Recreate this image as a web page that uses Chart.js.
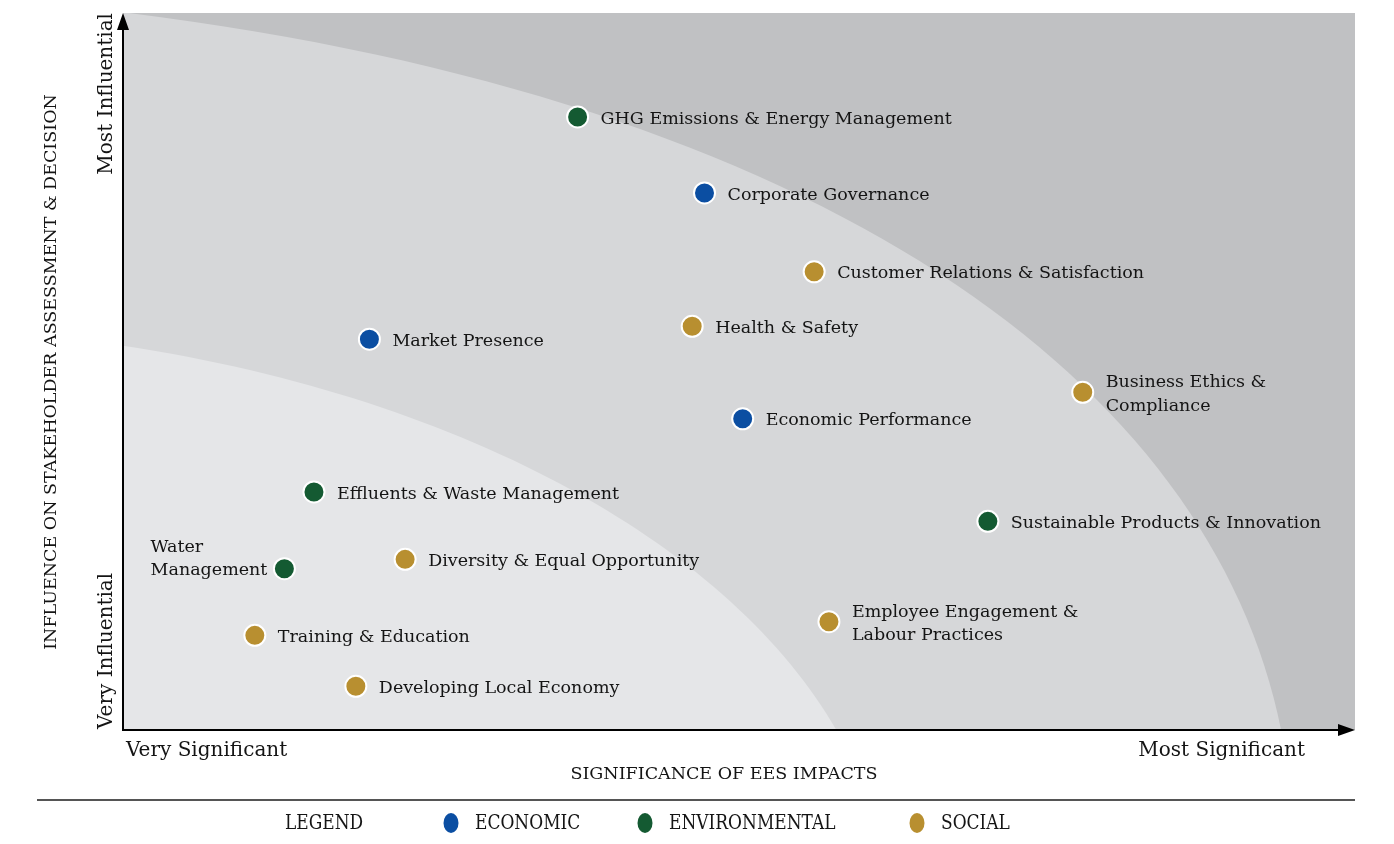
<!DOCTYPE html>
<html>
<head>
<meta charset="utf-8">
<script src="https://cdn.jsdelivr.net/npm/chart.js@4.4.1/dist/chart.umd.min.js"></script>
<style>
  body { margin: 0; background: #fff; }
  #wrap { width: 1394px; height: 844px; }
</style>
</head>
<body>
<div id="wrap"><canvas id="matriz" width="1394" height="844"></canvas></div>
<script>
// dados (escala 0-100 nos dois eixos)
const issues = [
    'GHG Emissions & Energy Management',
    'Corporate Governance',
    'Customer Relations & Satisfaction',
    'Health & Safety',
    'Market Presence',
    'Business Ethics & Compliance',
    'Economic Performance',
    'Effluents & Waste Management',
    'Sustainable Products & Innovation',
    'Water Management',
    'Diversity & Equal Opportunity',
    'Employee Engagement & Labour Practices',
    'Training & Education',
    'Developing Local Economy'
]
const significance = [36.9, 47.2, 56.1, 46.2, 20.0, 77.9, 50.3, 15.5, 70.2, 13.1, 22.9, 57.3, 10.7, 18.9]
const influence    = [85.5, 74.9, 63.9, 56.3, 54.5, 47.1, 43.4, 33.2, 29.1, 22.5, 23.8, 15.1, 13.2, 6.1]
const pillarOf = ['ENVIRONMENTAL', 'ECONOMIC', 'SOCIAL', 'SOCIAL', 'ECONOMIC', 'SOCIAL', 'ECONOMIC',
    'ENVIRONMENTAL', 'ENVIRONMENTAL', 'ENVIRONMENTAL', 'SOCIAL', 'SOCIAL', 'SOCIAL', 'SOCIAL']
const pillars = ['ECONOMIC', 'ENVIRONMENTAL', 'SOCIAL']
const pillarColors = ['#0b4ea2', '#145a32', '#b88f30']

// quebras de linha e rótulos à esquerda
const quebras = {
    'Business Ethics & Compliance': ['Business Ethics &', 'Compliance'],
    'Employee Engagement & Labour Practices': ['Employee Engagement &', 'Labour Practices'],
    'Water Management': ['Water', 'Management']
}
const rotuloEsquerda = ['Water Management']

const FONTE = '"DejaVu Serif", "Liberation Serif", serif'
const COR_TEXTO = '#141414'

const datasets = pillars.map((p, i) => {
    const pontos = []
    issues.forEach((nome, j) => {
        if (pillarOf[j] === p) pontos.push({ x: significance[j], y: influence[j], nome: nome })
    })
    return {
        label: p,
        data: pontos,
        backgroundColor: pillarColors[i],
        borderColor: '#ffffff',
        borderWidth: 2,
        pointRadius: 10.5,
        pointHoverRadius: 10.5
    }
})

function textoRotacionado(ctx, txt, x, y, align) {
    ctx.save()
    ctx.translate(x, y)
    ctx.rotate(-Math.PI / 2)
    ctx.textAlign = align
    ctx.textBaseline = 'middle'
    ctx.fillText(txt, 0, 0)
    ctx.restore()
}

const matrizPlugin = {
    id: 'matriz',
    beforeDatasetsDraw(chart) {
        const ctx = chart.ctx
        const a = chart.chartArea
        const sx = chart.scales.x
        const sy = chart.scales.y
        const P = (v) => [sx.getPixelForValue(v[0]), sy.getPixelForValue(v[1])]
        // curvas das zonas (bezier em unidades dos eixos)
        const zonas = [
            { curva: [[0, 100.1], [56.5, 88.2], [88.3, 48.8], [94.0, 0]], cor: '#d6d7d9' },
            { curva: [[0, 53.6], [28.4, 46.2], [49.5, 25.1], [57.9, 0]], cor: '#e5e6e8' }
        ]
        ctx.save()
        ctx.beginPath()
        ctx.rect(a.left, a.top, a.right - a.left, a.bottom - a.top)
        ctx.clip()
        ctx.fillStyle = '#c0c1c3'
        ctx.fillRect(a.left, a.top, a.right - a.left, a.bottom - a.top)
        zonas.forEach(z => {
            const c = z.curva.map(P)
            ctx.beginPath()
            ctx.moveTo(a.left - 2, c[0][1])
            ctx.lineTo(c[0][0], c[0][1])
            ctx.bezierCurveTo(c[1][0], c[1][1], c[2][0], c[2][1], c[3][0], c[3][1])
            ctx.lineTo(c[3][0], a.bottom + 2)
            ctx.lineTo(a.left - 2, a.bottom + 2)
            ctx.closePath()
            ctx.fillStyle = z.cor
            ctx.fill()
        })
        ctx.restore()
    },
    afterDatasetsDraw(chart) {
        const ctx = chart.ctx
        const a = chart.chartArea

        // rótulos dos pontos
        ctx.save()
        ctx.font = '17.5px ' + FONTE
        ctx.fillStyle = COR_TEXTO
        ctx.textBaseline = 'middle'
        chart.data.datasets.forEach((ds, i) => {
            const meta = chart.getDatasetMeta(i)
            meta.data.forEach((pt, k) => {
                const nome = ds.data[k].nome
                const linhas = quebras[nome] || [nome]
                const alt = 23.5
                ctx.textAlign = 'left'
                if (rotuloEsquerda.includes(nome)) {
                    const larg = Math.max(...linhas.map(l => ctx.measureText(l).width))
                    linhas.forEach((l, n) => {
                        ctx.fillText(l, pt.x - 17 - larg, pt.y - (linhas.length - 1 - n) * alt + 2)
                    })
                } else {
                    const y0 = pt.y + 2 - (linhas.length - 1) * alt / 2
                    linhas.forEach((l, n) => {
                        ctx.fillText(l, pt.x + 23, y0 + n * alt)
                    })
                }
            })
        })
        ctx.restore()

        // eixos com setas
        ctx.save()
        ctx.strokeStyle = '#000'
        ctx.fillStyle = '#000'
        ctx.lineWidth = 2
        ctx.beginPath()
        ctx.moveTo(a.left, a.bottom + 1)
        ctx.lineTo(a.left, a.top + 12)
        ctx.moveTo(a.left - 1, a.bottom)
        ctx.lineTo(a.right - 12, a.bottom)
        ctx.stroke()
        ctx.beginPath()
        ctx.moveTo(a.left, a.top)
        ctx.lineTo(a.left - 6, a.top + 17)
        ctx.lineTo(a.left + 6, a.top + 17)
        ctx.closePath()
        ctx.moveTo(a.right, a.bottom)
        ctx.lineTo(a.right - 17, a.bottom - 6)
        ctx.lineTo(a.right - 17, a.bottom + 6)
        ctx.closePath()
        ctx.fill()
        ctx.restore()

        // textos dos eixos
        ctx.save()
        ctx.fillStyle = COR_TEXTO
        ctx.font = '20px ' + FONTE
        ctx.textBaseline = 'middle'
        ctx.textAlign = 'left'
        ctx.fillText('Very Significant', a.left + 3, 751)
        ctx.textAlign = 'right'
        ctx.fillText('Most Significant', 1305, 751)
        textoRotacionado(ctx, 'Most Influential', 107, a.top, 'right')
        textoRotacionado(ctx, 'Very Influential', 107, a.bottom - 1, 'left')
        ctx.font = '17.5px ' + FONTE
        ctx.textAlign = 'center'
        ctx.fillText('SIGNIFICANCE OF EES IMPACTS', 724, 774)
        textoRotacionado(ctx, 'INFLUENCE ON STAKEHOLDER ASSESSMENT & DECISION', 51, 372, 'center')
        ctx.restore()

        // linha separadora
        ctx.save()
        ctx.strokeStyle = '#555'
        ctx.lineWidth = 2
        ctx.beginPath()
        ctx.moveTo(37, 800)
        ctx.lineTo(a.right, 800)
        ctx.stroke()
        ctx.restore()

        // legenda
        ctx.save()
        ctx.fillStyle = COR_TEXTO
        ctx.font = '20px ' + FONTE
        ctx.textBaseline = 'middle'
        ctx.textAlign = 'left'
        const cond = 0.85
        function textoCond(t, x, y) {
            ctx.save()
            ctx.translate(x, y)
            ctx.scale(cond, 1)
            ctx.fillText(t, 0, 0)
            ctx.restore()
        }
        textoCond('LEGEND', 285, 824)
        const xs = [451, 645, 917]
        chart.data.datasets.forEach((ds, i) => {
            ctx.beginPath()
            ctx.ellipse(xs[i], 823, 7.5, 10, 0, 0, Math.PI * 2)
            ctx.fillStyle = ds.backgroundColor
            ctx.fill()
            ctx.fillStyle = COR_TEXTO
            textoCond(ds.label, xs[i] + 24, 824)
        })
        ctx.restore()
    }
}

new Chart(document.getElementById('matriz'), {
    type: 'scatter',
    data: { datasets: datasets },
    options: {
        responsive: false,
        animation: false,
        layout: { padding: { left: 123, right: 39, top: 13, bottom: 114 } },
        scales: {
            x: { display: false, min: 0, max: 100 },
            y: { display: false, min: 0, max: 100 }
        },
        plugins: {
            legend: { display: false },
            tooltip: { enabled: false }
        }
    },
    plugins: [matrizPlugin]
})
</script>
</body>
</html>
